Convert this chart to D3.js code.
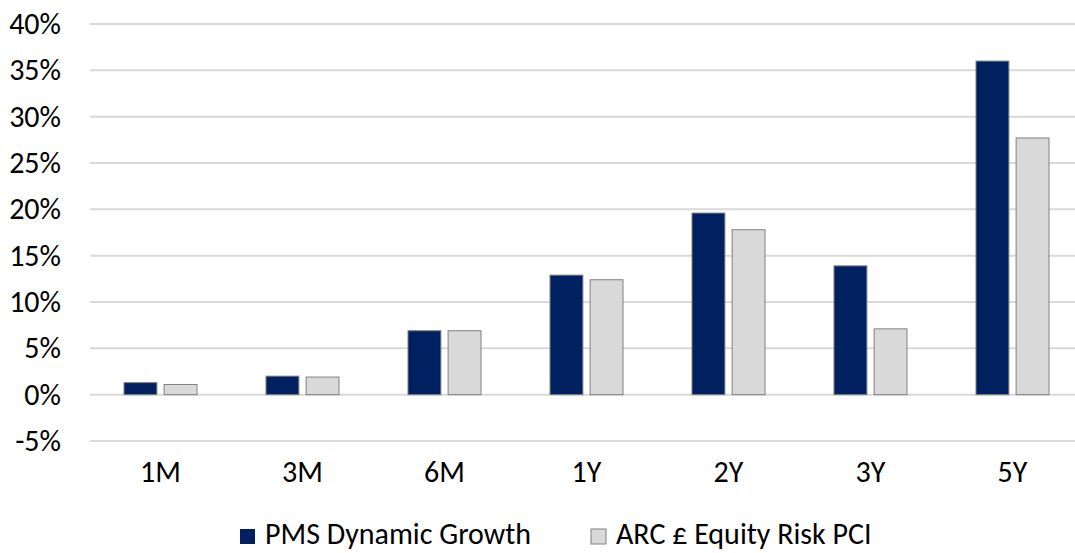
<!DOCTYPE html>
<html lang="en">
<head>
<meta charset="utf-8">
<title>Performance</title>
<script src="https://d3js.org/d3.v7.min.js"></script>
<style>
  body { margin: 0; background: #fff; }
  svg { display: block; font-family: Carlito, Lato, "Open Sans", sans-serif; }
</style>
</head>
<body>
<svg width="1075" height="553" id="svg"></svg>
<script>
// data
var periods = ["1M", "3M", "6M", "1Y", "2Y", "3Y", "5Y"];
var seriesNames = ["PMS Dynamic Growth", "ARC £ Equity Risk PCI"];
var pmsValues = [1.3, 2.0, 6.9, 12.9, 19.6, 13.9, 36.0];
var arcValues = [1.1, 1.9, 6.9, 12.4, 17.8, 7.1, 27.7];
var yTicks = [-5, 0, 5, 10, 15, 20, 25, 30, 35, 40];
var colors = ["#002060", "#d9d9d9"];

var svg = d3.select("#svg");

// plot area runs a little past the right edge of the picture
var x0 = d3.scaleBand().domain(periods).range([89.5, 1083.5]).padding(0);
var groupW = 73;
var x1 = d3.scaleBand().domain(seriesNames)
    .range([x0.bandwidth() / 2 - groupW / 2, x0.bandwidth() / 2 + groupW / 2])
    .paddingInner(0.18);
var y = d3.scaleLinear().domain([-5, 40]).range([441, 24]);

// gridlines
svg.append("g").selectAll("line").data(yTicks).enter().append("line")
    .attr("x1", 90).attr("x2", 1075)
    .attr("y1", function(d) { return y(d); })
    .attr("y2", function(d) { return y(d); })
    .attr("stroke", "#d9d9d9").attr("stroke-width", 2);

// y axis labels
var yAxis = d3.axisLeft(y).tickValues(yTicks).tickSize(0).tickPadding(0)
    .tickFormat(function(d) { return d + "%"; });
var yg = svg.append("g").attr("transform", "translate(61,0)").call(yAxis)
    .attr("font-family", null).attr("font-size", 30);
yg.select(".domain").remove();
yg.selectAll("text").attr("fill", "#000");

// x axis labels
var xAxis = d3.axisBottom(x0).tickSize(0).tickPadding(0);
var xg = svg.append("g").attr("transform", "translate(0,461)").call(xAxis)
    .attr("font-family", null).attr("font-size", 30);
xg.select(".domain").remove();
xg.selectAll("text").attr("fill", "#000");

// bars
var rows = periods.map(function(p, i) {
  return { period: p, vals: [pmsValues[i], arcValues[i]] };
});
var groups = svg.append("g").selectAll("g").data(rows).enter().append("g")
    .attr("transform", function(d) { return "translate(" + x0(d.period) + ",0)"; });
groups.selectAll("rect")
    .data(function(d) { return d.vals.map(function(v, j) { return { name: seriesNames[j], v: v, c: colors[j] }; }); })
    .enter().append("rect")
    .attr("x", function(d) { return x1(d.name); })
    .attr("width", x1.bandwidth())
    .attr("y", function(d) { return y(Math.max(0, d.v)); })
    .attr("height", function(d) { return Math.abs(y(d.v) - y(0)); })
    .attr("fill", function(d) { return d.c; })
    .attr("stroke", "#808080").attr("stroke-width", 1);

// legend (raised a few px so the descenders stay in view)
var legendX = [240, 591];
var leg = svg.append("g").selectAll("g").data(seriesNames).enter().append("g")
    .attr("transform", function(d, i) { return "translate(" + legendX[i] + ",529)"; });
leg.append("rect").attr("width", 15).attr("height", 15)
    .attr("fill", function(d, i) { return colors[i]; })
    .attr("stroke", function(d, i) { return i ? "#808080" : "none"; });
leg.append("text").attr("x", 25).attr("y", 15).attr("font-size", 30)
    .text(function(d) { return d; });
</script>
</body>
</html>
